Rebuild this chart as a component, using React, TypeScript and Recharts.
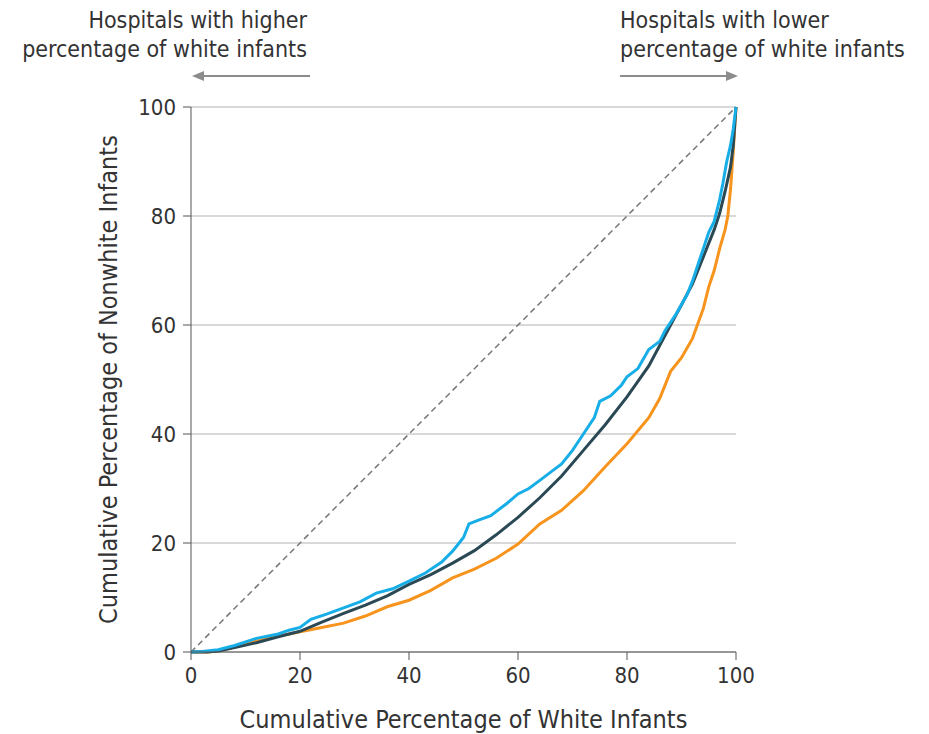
import React from "react";
import {
  LineChart,
  Line,
  XAxis,
  YAxis,
  CartesianGrid,
  ReferenceLine,
  Customized,
} from "recharts";

const ticks = [0, 20, 40, 60, 80, 100];

const blueX = [0, 2, 5, 8, 12, 16, 18, 20, 22, 25, 28, 31, 34, 37, 40, 43, 46, 48, 50, 51, 53, 55, 58, 60, 62, 64, 66, 68, 70, 72, 74, 75, 77, 79, 80, 82, 84, 86, 87, 89, 91, 92, 93, 94, 95, 96, 97, 97.6, 98.3, 99, 99.5, 100];
const blueY = [0, 0.1, 0.4, 1.2, 2.5, 3.3, 4.0, 4.5, 6.0, 7.0, 8.1, 9.2, 10.8, 11.6, 13.0, 14.5, 16.5, 18.5, 21, 23.5, 24.3, 25, 27.3, 29, 30, 31.5, 33, 34.5, 37, 40, 43, 46, 47, 49, 50.5, 52, 55.5, 57, 59, 62, 65.5, 68, 71, 74, 77, 79, 83, 86, 90, 93, 96, 100];

const darkX = [0, 3, 5, 8, 12, 16, 20, 24, 28, 32, 36, 40, 44, 48, 52, 56, 60, 64, 68, 72, 76, 80, 84, 88, 90, 92, 94, 96, 97, 98, 99, 99.5, 100];
const darkY = [0, 0, 0.2, 0.8, 1.7, 2.8, 3.8, 5.5, 7.1, 8.6, 10.3, 12.4, 14.2, 16.3, 18.6, 21.5, 24.7, 28.3, 32.3, 37, 41.7, 46.8, 52.5, 60, 63.7, 67.5, 72.5, 77.5, 80.5, 84.5, 89, 93, 100];

const orangeX = [0, 3, 5, 8, 12, 16, 20, 24, 28, 32, 36, 40, 44, 48, 52, 56, 60, 64, 68, 72, 76, 80, 84, 86, 88, 90, 92, 94, 95, 96, 97, 98, 98.5, 99, 99.5, 100];
const orangeY = [0, 0, 0.2, 0.9, 2.0, 2.9, 3.7, 4.5, 5.3, 6.6, 8.3, 9.5, 11.3, 13.6, 15.2, 17.2, 19.8, 23.5, 26, 29.6, 34, 38.2, 43, 46.5, 51.5, 54, 57.5, 63, 67, 70, 74, 77.5, 80, 85, 92, 100];

const toData = (xs: number[], ys: number[]) => xs.map((x, i) => ({ x, y: ys[i] }));
const blueData = toData(blueX, blueY);
const darkData = toData(darkX, darkY);
const orangeData = toData(orangeX, orangeY);

const FONT = "'Liberation Sans Narrow', 'DejaVu Sans Condensed', 'Roboto', sans-serif";
const TXT = "#333333";

const Header = () => (
  <g fontFamily={FONT} fontSize={23} fill={TXT}>
    <text x={299} y={20} textAnchor="end">Hospitals with higher</text>
    <text x={299} y={49} textAnchor="end">percentage of white infants</text>
    <text x={612} y={20} textAnchor="start">Hospitals with lower</text>
    <text x={612} y={49} textAnchor="start">percentage of white infants</text>
    <line x1={302} y1={68} x2={194} y2={68} stroke="#8c8c8c" strokeWidth={2} />
    <polygon points="184,68 196,63 196,73" fill="#8c8c8c" />
    <line x1={612} y1={68} x2={720} y2={68} stroke="#8c8c8c" strokeWidth={2} />
    <polygon points="730,68 718,63 718,73" fill="#8c8c8c" />
  </g>
);

export default function App() {
  return (
    <LineChart
      width={921}
      height={726}
      margin={{ top: 99, right: 193, left: 0, bottom: 0 }}
    >
      <CartesianGrid horizontal vertical={false} stroke="#d9d9d9" strokeWidth={2} />
      <XAxis
        type="number"
        dataKey="x"
        domain={[0, 100]}
        ticks={ticks}
        height={82}
        stroke="#555"
        tickSize={8}
        tick={{ fill: TXT, fontSize: 22, fontFamily: FONT }}
        tickMargin={7}
        label={{ value: "Cumulative Percentage of White Infants", position: "insideBottom", offset: 6, fill: TXT, fontSize: 25, fontFamily: FONT }}
        allowDuplicatedCategory={false}
      />
      <YAxis
        type="number"
        dataKey="y"
        domain={[0, 100]}
        ticks={ticks}
        width={183}
        stroke="#555"
        tickSize={8}
        tickMargin={7}
        tick={{ fill: TXT, fontSize: 22, fontFamily: FONT }}
        label={{ value: "Cumulative Percentage of Nonwhite Infants", angle: -90, position: "insideLeft", offset: 100, fill: TXT, fontSize: 25, fontFamily: FONT, style: { textAnchor: "middle" } }}
      />
      <ReferenceLine
        segment={[{ x: 0, y: 0 }, { x: 100, y: 100 }]}
        stroke="#777"
        strokeWidth={1.5}
        strokeDasharray="6 4"
      />
      <Line data={orangeData} dataKey="y" type="linear" stroke="#f7941d" strokeWidth={3} dot={false} isAnimationActive={false} />
      <Line data={darkData} dataKey="y" type="linear" stroke="#2b4954" strokeWidth={3} dot={false} isAnimationActive={false} />
      <Line data={blueData} dataKey="y" type="linear" stroke="#17aee8" strokeWidth={3} dot={false} isAnimationActive={false} />
      <Customized component={Header} />
    </LineChart>
  );
}
